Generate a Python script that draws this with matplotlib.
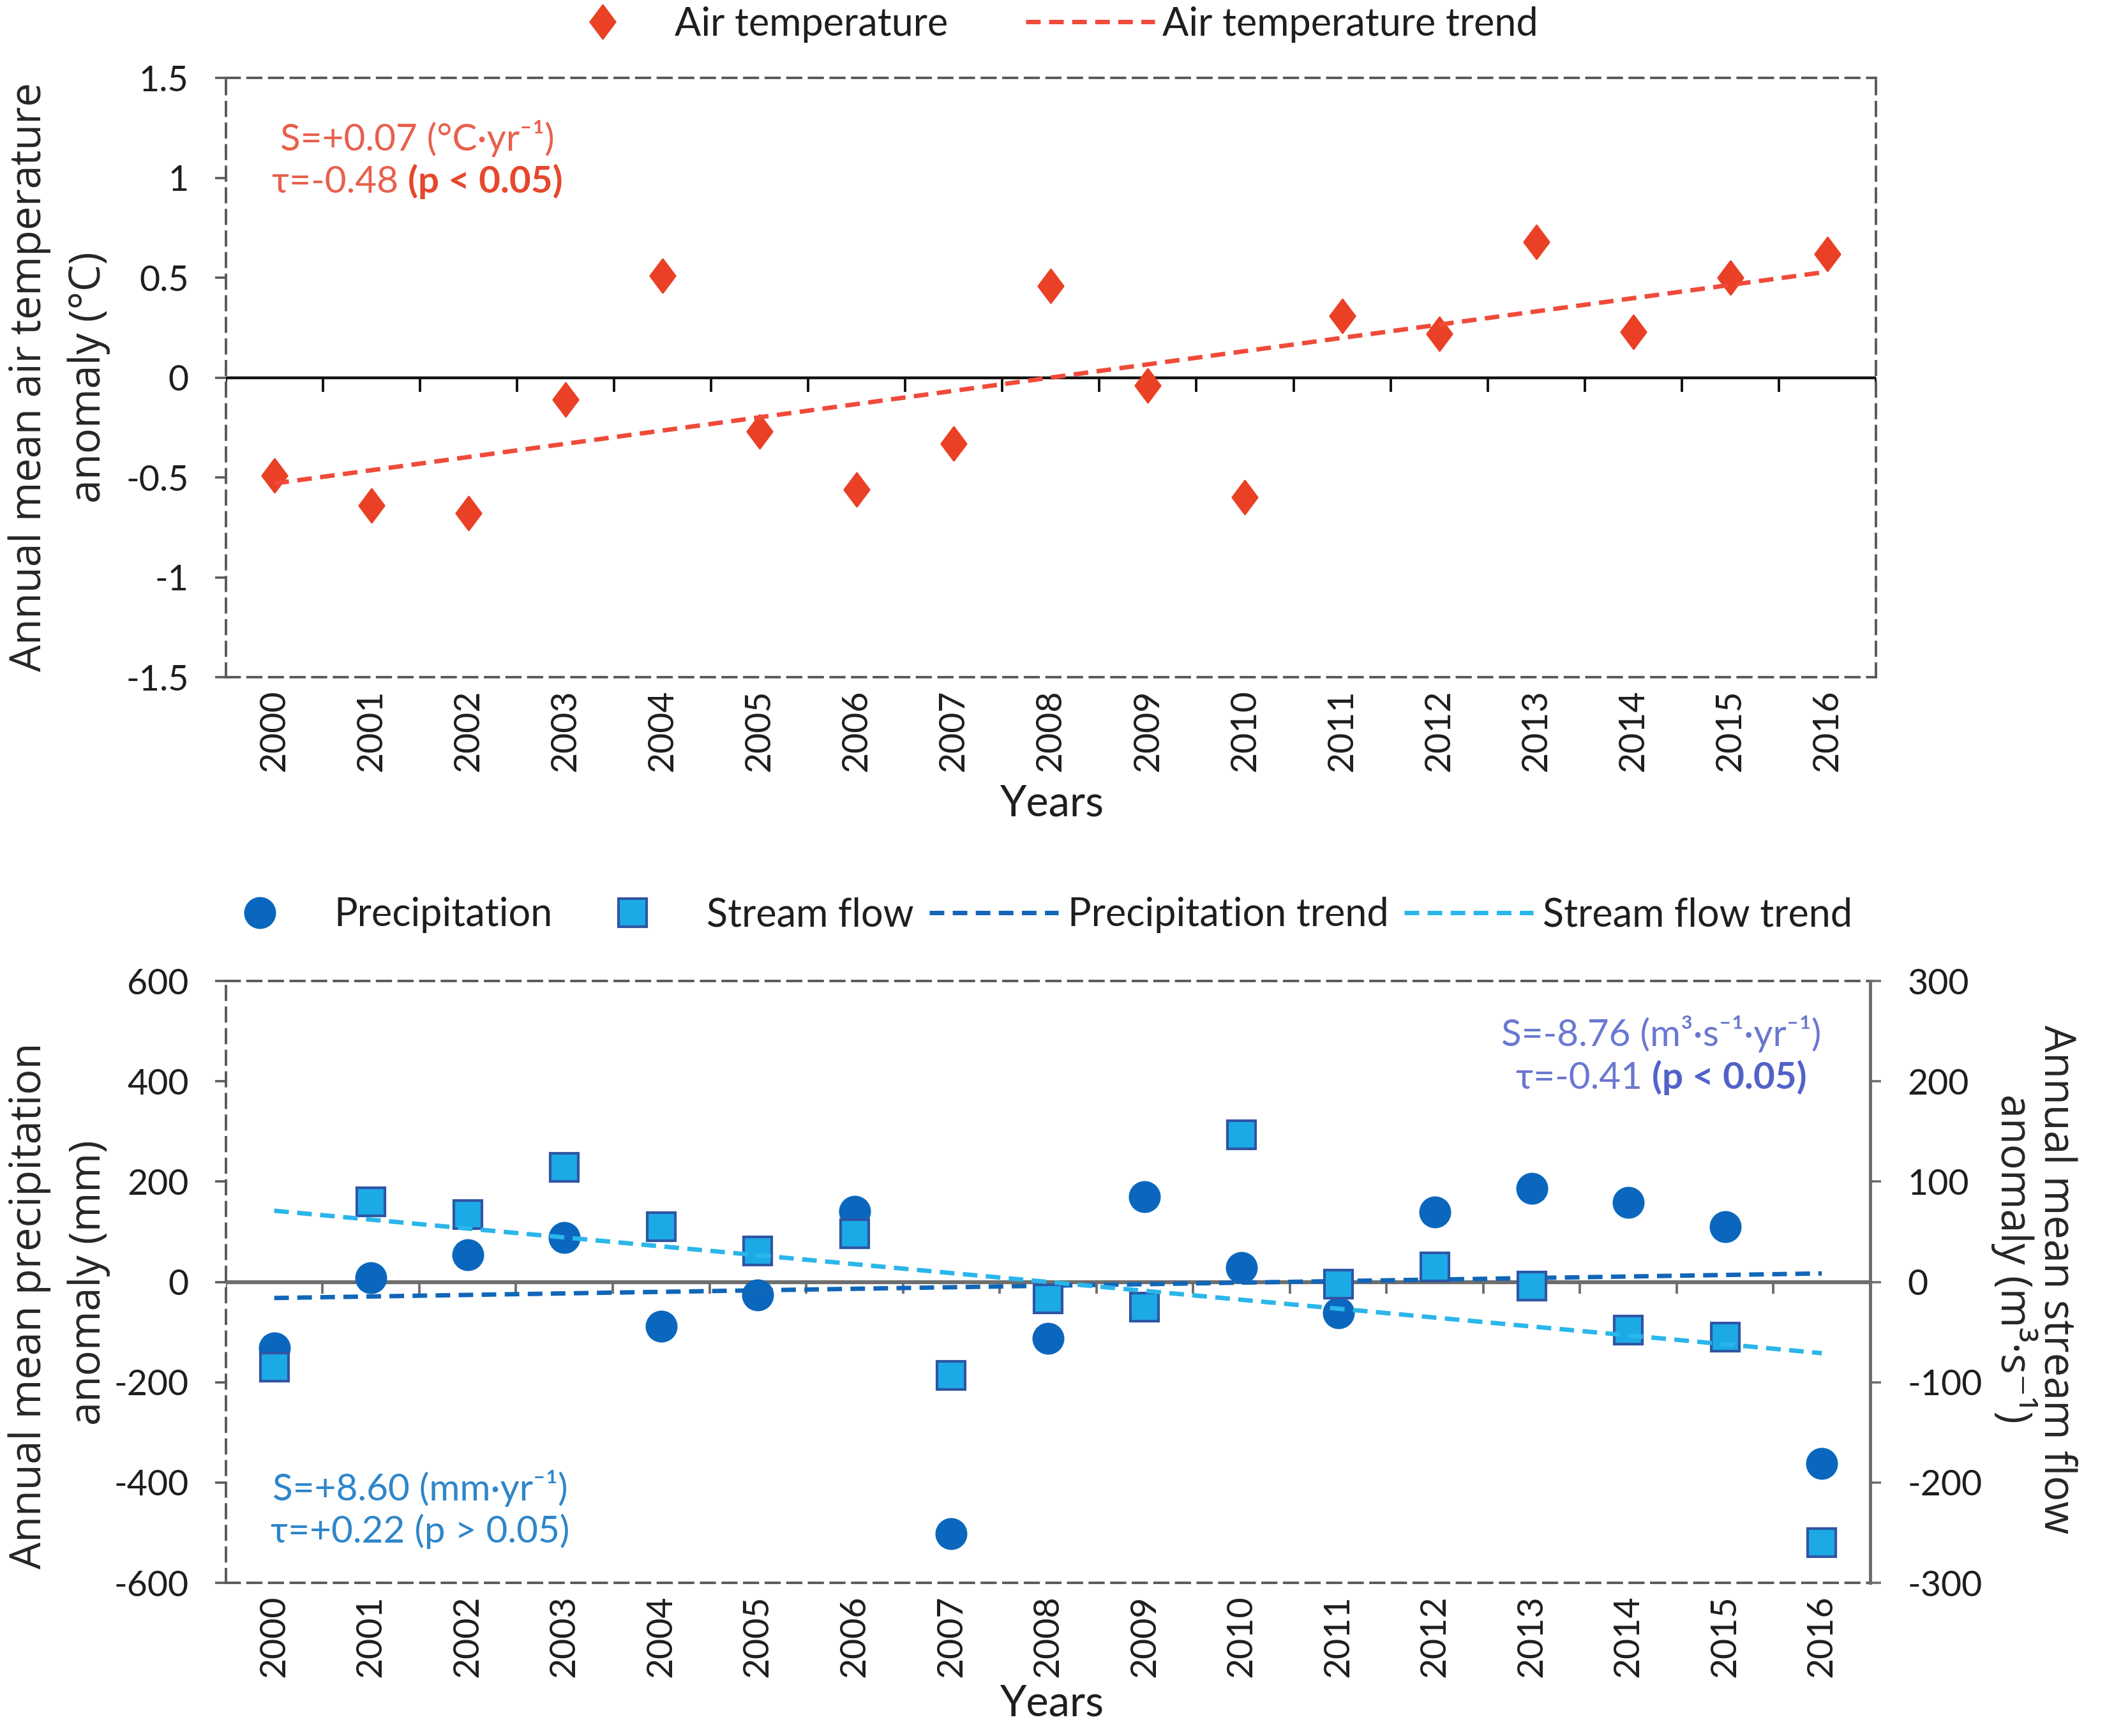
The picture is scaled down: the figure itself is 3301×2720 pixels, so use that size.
import matplotlib
matplotlib.use('Agg')
import matplotlib.pyplot as plt
from matplotlib.lines import Line2D
from matplotlib.path import Path
from matplotlib.offsetbox import TextArea, HPacker, VPacker, AnchoredOffsetbox
import numpy as np

# ---- data ----
years = ['2000', '2001', '2002', '2003', '2004', '2005', '2006', '2007', '2008',
         '2009', '2010', '2011', '2012', '2013', '2014', '2015', '2016']

air_temp = [-0.49, -0.64, -0.68, -0.11, 0.51, -0.27, -0.56, -0.33, 0.46,
            -0.04, -0.60, 0.31, 0.22, 0.68, 0.23, 0.50, 0.62]
air_trend = [-0.53, 0.53]          # trend line value at 2000 and 2016

precip = [-132, 9, 54, 89, -88, -26, 141, -502, -112,
          170, 29, -61, 140, 186, 158, 110, -362]
precip_trend = [-32, 17]           # mm, at 2000 and 2016

streamflow = [-85, 80, 67, 114, 55, 31, 48, -93, -17,
              -25, 147, -2, 15, -4, -48, -55, -260]
stream_trend = [71, -71]           # m3/s, at 2000 and 2016

temp_ticks = [-1.5, -1, -0.5, 0, 0.5, 1, 1.5]
temp_ticklabels = ['-1.5', '-1', '-0.5', '0', '0.5', '1', '1.5']
precip_ticks = [-600, -400, -200, 0, 200, 400, 600]
precip_ticklabels = ['-600', '-400', '-200', '0', '200', '400', '600']
flow_ticks = [-300, -200, -100, 0, 100, 200, 300]
flow_ticklabels = ['-300', '-200', '-100', '0', '100', '200', '300']

# ---- style ----
TXT = ['Lato', 'DejaVu Sans']
LAB = ['Open Sans', 'DejaVu Sans']
GRAY = '#5a5a5a'
DARK = '#1e1e1e'
RED = '#ea4025'
RED_TREND = '#f04a3a'
RED_TXT = '#e8604c'
P_BLUE = '#0b67bd'
S_FACE = '#1caae6'
S_EDGE = '#2f55a4'
P_TREND = '#1166b8'
S_TREND = '#2ab6ea'
BL_TXT = '#2e86ca'
BR_TXT = '#6a78d0'
BR_BOLD = '#5262c8'

plt.rcParams['axes.unicode_minus'] = False

fig = plt.figure(figsize=(16.505, 13.6), dpi=200)
ax1 = fig.add_axes([0.1072, 0.6099, 0.7831, 0.3452])
ax2 = fig.add_axes([0.1072, 0.0882, 0.7804, 0.3467])
ax2b = ax2.twinx()

x = np.arange(len(years))
ends = [x[0], x[-1]]
bounds = np.arange(len(years) + 1) - 0.5

diamond = Path([(0, 1), (0.75, 0), (0, -1), (-0.75, 0), (0, 1)],
               [Path.MOVETO, Path.LINETO, Path.LINETO, Path.LINETO, Path.CLOSEPOLY])

dash_box = (0, (5.5, 3.2))
dash_trend = (0, (3.3, 1.9))
TREND_LW = 2.5


def frame(ax, right_dashed=True):
    for side in ['left', 'top', 'bottom', 'right']:
        sp = ax.spines[side]
        sp.set_color(GRAY)
        sp.set_linewidth(1.4)
        sp.set_linestyle(dash_box)
    if not right_dashed:
        ax.spines['right'].set_visible(False)
    ax.set_xlim(-0.5, len(years) - 0.5)
    ax.set_xticks(x)
    ax.set_xticklabels(years, rotation=90, fontsize=20, family=TXT, color=DARK)
    ax.tick_params(axis='x', length=0, pad=7)
    ax.tick_params(axis='y', direction='out', length=6, width=1.3, color=GRAY,
                   pad=15, labelsize=20, labelcolor=DARK)
    for lab in ax.get_yticklabels():
        lab.set_family(TXT)


def stat_box(ax, xy, rows, color, bold_color, size=21):
    lines = []
    for plain, bold in rows:
        parts = [TextArea(plain, textprops=dict(color=color, fontsize=size, family=TXT))]
        if bold:
            parts.append(TextArea(bold, textprops=dict(color=bold_color, fontsize=size,
                                                       family=TXT, fontweight='bold')))
        lines.append(HPacker(children=parts, align='baseline', pad=0, sep=0))
    box = VPacker(children=lines, align='center', pad=0, sep=4)
    ab = AnchoredOffsetbox(loc='center', child=box, pad=0, borderpad=0, frameon=False,
                           bbox_to_anchor=xy, bbox_transform=ax.transAxes)
    ax.add_artist(ab)


# ---- top panel: air temperature ----
ax1.set_ylim(-1.5, 1.5)
ax1.set_yticks(temp_ticks)
ax1.set_yticklabels(temp_ticklabels)
frame(ax1)
ax1.axhline(0, color='#111111', lw=1.6, zorder=1)
ax1.plot(bounds, np.zeros_like(bounds), ls='none', marker=3, ms=8, mew=1.4,
         color='#111111', zorder=1)
ax1.plot(x, air_temp, ls='none', marker=diamond, ms=19, color=RED, mec=RED, zorder=3)
ax1.plot(ends, air_trend, color=RED_TREND, lw=TREND_LW, ls=dash_trend, zorder=4)
stat_box(ax1, (0.116, 0.864),
         [('S=+0.07 (°C·yr⁻¹)', None), ('τ=-0.48 ', '(p < 0.05)')],
         RED_TXT, '#e5482e')

fig.text(0.0139, 0.7827, 'Annual mean air temperature', rotation=90, ha='center',
         va='center', fontsize=24, family=LAB, color='#262626')
fig.text(0.0421, 0.7827, 'anomaly (°C)', rotation=90, ha='center',
         va='center', fontsize=24, family=LAB, color='#262626')
fig.text(0.4993, 0.5371, 'Years', ha='center', va='center', fontsize=24,
         family=TXT, color=DARK)

top_handles = [
    Line2D([], [], ls='none', marker=diamond, ms=19, color=RED),
    Line2D([], [], color=RED_TREND, lw=TREND_LW, ls=dash_trend),
]
fig.legend(top_handles, ['Air temperature', 'Air temperature trend'],
           loc='center', bbox_to_anchor=(0.4927, 0.986), ncol=2, frameon=False,
           handlelength=3.3, handletextpad=0.2, columnspacing=2.0,
           prop=dict(family=TXT, size=22), labelcolor=DARK)

# ---- bottom panel: precipitation and stream flow ----
ax2.set_ylim(-600, 600)
ax2.set_yticks(precip_ticks)
ax2.set_yticklabels(precip_ticklabels)
frame(ax2, right_dashed=False)
ax2.axhline(0, color='#6e6e6e', lw=2.2, zorder=1)
ax2.plot(bounds, np.zeros_like(bounds), ls='none', marker=3, ms=6.5, mew=1.4,
         color='#6e6e6e', zorder=1)
ax2.plot(x, precip, ls='none', marker='o', ms=17, color=P_BLUE, mec=P_BLUE, zorder=3)
ax2.plot(ends, precip_trend, color=P_TREND, lw=TREND_LW, ls=dash_trend, zorder=4)

ax2b.set_ylim(-300, 300)
ax2b.set_yticks(flow_ticks)
ax2b.set_yticklabels(flow_ticklabels)
for side in ['left', 'top', 'bottom']:
    ax2b.spines[side].set_visible(False)
ax2b.spines['right'].set_color('#6e6e6e')
ax2b.spines['right'].set_linewidth(1.8)
ax2b.tick_params(axis='y', direction='out', length=6, width=1.3, color='#6e6e6e',
                 pad=15, labelsize=20, labelcolor=DARK)
for lab in ax2b.get_yticklabels():
    lab.set_family(TXT)
ax2b.plot(x, streamflow, ls='none', marker='s', ms=16, mfc=S_FACE, mec=S_EDGE,
          mew=1.5, zorder=3)
ax2b.plot(ends, stream_trend, color=S_TREND, lw=TREND_LW, ls=dash_trend, zorder=4)

stat_box(ax2, (0.118, 0.122),
         [('S=+8.60 (mm·yr⁻¹)', None), ('τ=+0.22 (p > 0.05)', None)],
         BL_TXT, BL_TXT)
stat_box(ax2, (0.873, 0.8765),
         [('S=-8.76 (m³·s⁻¹·yr⁻¹)', None), ('τ=-0.41 ', '(p < 0.05)')],
         BR_TXT, BR_BOLD)

fig.text(0.0139, 0.2478, 'Annual mean precipitation', rotation=90, ha='center',
         va='center', fontsize=24, family=LAB, color='#262626')
fig.text(0.0421, 0.2610, 'anomaly (mm)', rotation=90, ha='center',
         va='center', fontsize=24, family=LAB, color='#262626')
fig.text(0.9757, 0.2632, 'Annual mean stream flow', rotation=270, ha='center',
         va='center', fontsize=24, family=LAB, color='#262626')
fig.text(0.9560, 0.2750, 'anomaly (m³·s⁻¹)', rotation=270, ha='center',
         va='center', fontsize=24, family=LAB, color='#262626')
fig.text(0.4993, 0.0187, 'Years', ha='center', va='center', fontsize=24,
         family=TXT, color=DARK)

bottom_handles = [
    Line2D([], [], ls='none', marker='o', ms=17, color=P_BLUE),
    Line2D([], [], ls='none', marker='s', ms=16, mfc=S_FACE, mec=S_EDGE, mew=1.5),
    Line2D([], [], color=P_TREND, lw=TREND_LW, ls=dash_trend),
    Line2D([], [], color=S_TREND, lw=TREND_LW, ls=dash_trend),
]
fig.legend(bottom_handles, ['Precipitation', 'Stream flow', 'Precipitation trend',
                            'Stream flow trend'],
           loc='center', bbox_to_anchor=(0.486, 0.4728), ncol=4, frameon=False,
           handlelength=3.3, handletextpad=0.25, columnspacing=0.4,
           prop=dict(family=TXT, size=22), labelcolor=DARK)

fig.savefig('out.png', dpi=200)
